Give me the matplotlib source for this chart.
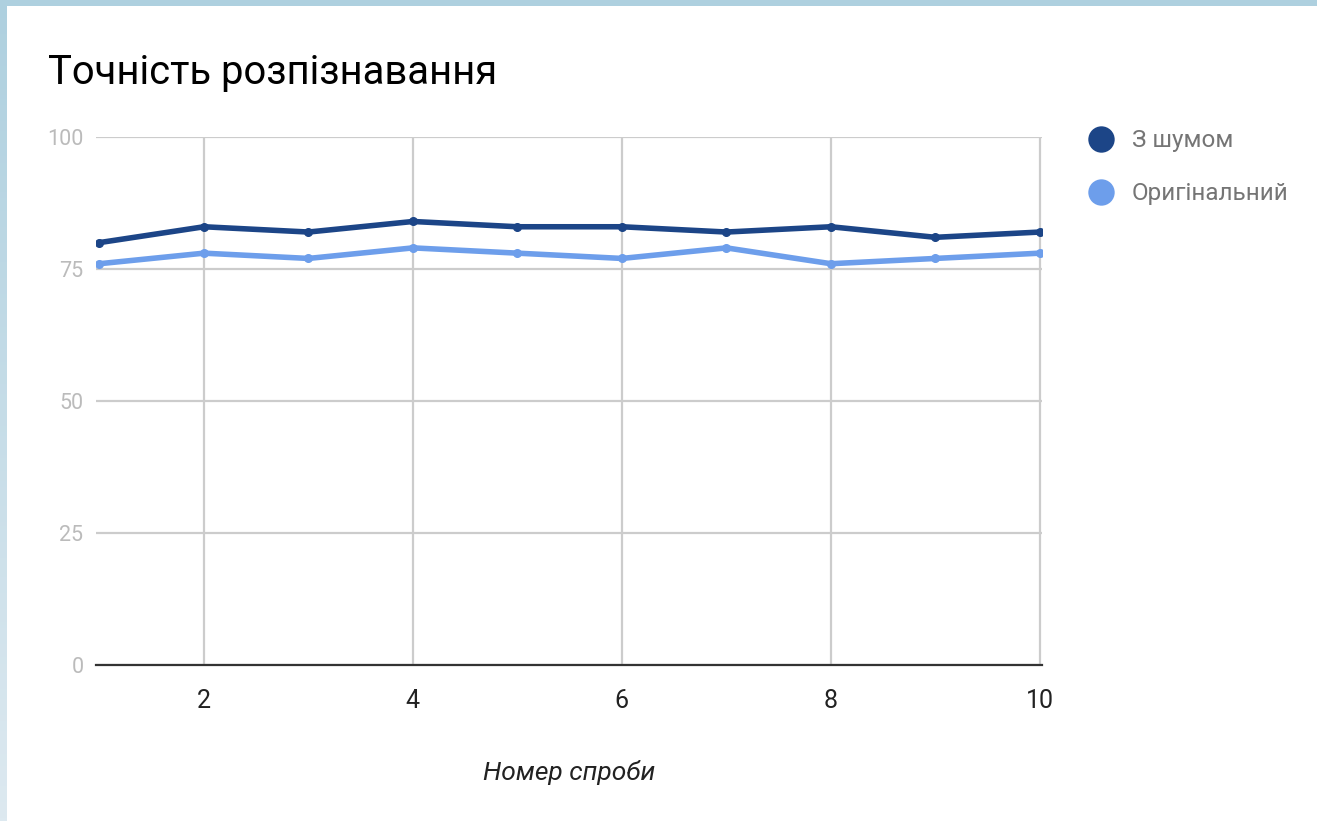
import numpy as np
import matplotlib
matplotlib.use("Agg")
import matplotlib.pyplot as plt
from matplotlib.patches import Rectangle
from matplotlib.lines import Line2D
from matplotlib.colors import LinearSegmentedColormap

plt.rcParams['font.family'] = ['Roboto', 'DejaVu Sans']

# recognition accuracy per attempt
attempts = [1, 2, 3, 4, 5, 6, 7, 8, 9, 10]
noisy = [80, 83, 82, 84, 83, 83, 82, 83, 81, 82]
original = [76, 78, 77, 79, 78, 77, 79, 76, 77, 78]
series_names = ["З шумом", "Оригінальний"]
series_colors = ["#1c4587", "#6d9eeb"]
y_ticks = [0, 25, 50, 75, 100]
x_ticks = [2, 4, 6, 8, 10]

W, H = 1317, 821
fig = plt.figure(figsize=(W / 100, H / 100), dpi=100)

# light blue frame with a soft vertical fade, white card on top
bg = fig.add_axes([0, 0, 1, 1])
bg.set_axis_off()
cmap = LinearSegmentedColormap.from_list("frame", ["#aed0df", "#dde9f0"])
bg.imshow(np.linspace(0, 1, 256).reshape(-1, 1), aspect="auto", cmap=cmap,
          extent=[0, 1, 0, 1], origin="upper")
bg.add_patch(Rectangle((7 / W, 0), 1 - 7 / W, 1 - 6 / H, facecolor="white",
                       edgecolor="none", transform=bg.transAxes))
bg.set_xlim(0, 1)
bg.set_ylim(0, 1)

ax = fig.add_axes([96 / W, (H - 665) / H, (1042 - 96) / W, 528 / H])
ax.set_facecolor("none")

for vals, name, c in zip([noisy, original], series_names, series_colors):
    ax.plot(attempts, vals, color=c, lw=4, marker="o", ms=5.5,
            solid_capstyle="round", label=name, zorder=3)

ax.set_xlim(0.967, 10.02)
ax.set_ylim(0, 100)
ax.set_xticks(x_ticks)
ax.set_yticks(y_ticks)
ax.grid(True, color="#cccccc", lw=1.6)
ax.set_axisbelow(True)
for s in ["top", "right", "left"]:
    ax.spines[s].set_visible(False)
ax.spines["bottom"].set_color("#333333")
ax.spines["bottom"].set_linewidth(1.6)
ax.spines["bottom"].set_zorder(2)
ax.tick_params(axis="both", length=0)
ax.tick_params(axis="x", labelsize=18, labelcolor="#222222", pad=17)
ax.tick_params(axis="y", labelsize=15.5, labelcolor="#bbbbbb", pad=9)

ax.set_xlabel("Номер спроби", fontsize=19, style="italic", color="#222222",
              labelpad=34)

fig.text(48 / W, 1 - 72 / H, "Точність розпізнавання", fontsize=28.8,
         color="black", va="center", ha="left")

# legend on the right
for i, (name, c) in enumerate(zip(series_names, series_colors)):
    yy = 1 - (139 + 53 * i) / H
    fig.add_artist(Line2D([1101 / W], [yy], marker="o", ms=19, color=c,
                          markeredgewidth=0, transform=fig.transFigure))
    fig.text(1132 / W, yy - 1.5 / H, name, fontsize=17.5, color="#757575",
             va="center", ha="left")

fig.savefig("out.png", dpi=100)
